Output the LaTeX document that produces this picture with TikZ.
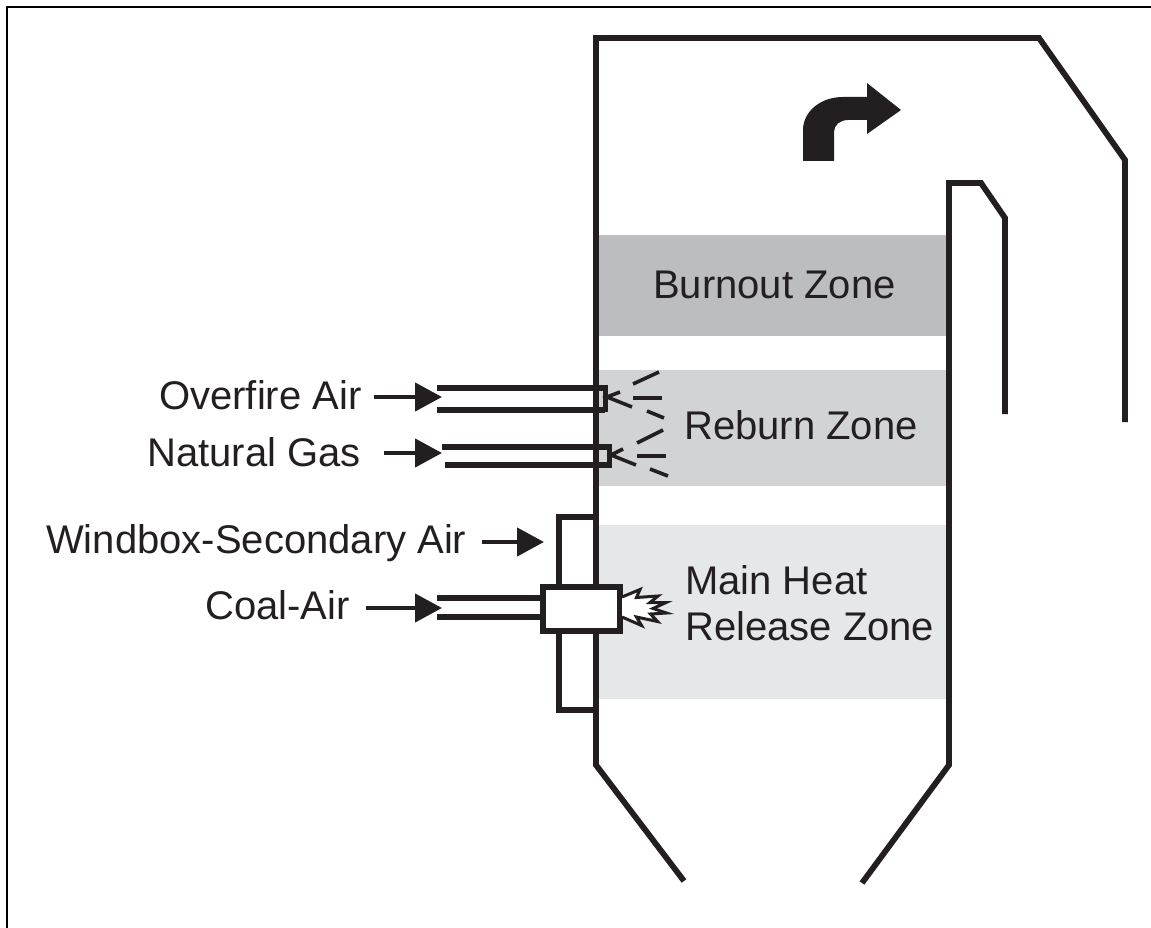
\documentclass[tikz,border=0pt]{standalone}
\usepackage{fontspec}
\setmainfont{Liberation Sans}
\usetikzlibrary{arrows.meta}
\definecolor{ink}{HTML}{231F20}
\definecolor{burn}{HTML}{BBBDC0}
\definecolor{reburn}{HTML}{D1D3D4}
\definecolor{mainz}{HTML}{E6E7E8}
\tikzset{
  wall/.style={draw=ink,line width=5.8pt,line cap=butt,line join=miter},
  pipe/.style={draw=ink,line width=6pt},
  thin stroke/.style={draw=ink,line width=3pt},
  spray/.style={draw=ink,line width=3.6pt},
  feed/.style={draw=ink,line width=4.4pt,-{Triangle[length=27pt,width=28pt]}},
  lab/.style={font=\fontsize{40}{46}\selectfont,text=ink,inner sep=0pt,anchor=base west},
}
\begin{document}
\begin{tikzpicture}[x=1pt,y=-1pt]
\useasboundingbox (0,0) rectangle (1151,928);
\fill[white] (0,0) rectangle (1151,928);
\draw[black,line width=1.6pt] (7,928) -- (7,7) -- (1151,7);
% zones
\fill[burn] (597,235) rectangle (947,336);
\fill[reburn] (597,370) rectangle (947,486);
\fill[mainz] (597,525) rectangle (947,699);
% furnace walls
\draw[wall] (684,881) -- (596,765) -- (596,38) -- (1039,38) -- (1125,160) -- (1125,422);
\draw[wall] (862,883) -- (949,765) -- (949,183) -- (981,183) -- (1005,218) -- (1005,414);
% windbox
\draw[wall] (596,517) -- (559,517) -- (559,710) -- (596,710);
% injector pipes
\draw[pipe] (437,388) -- (605,388);
\draw[pipe] (437,410) -- (605,410);
\draw[draw=ink,line width=5pt] (596,387.5) -- (605,387.5) -- (605,409.5) -- (596,409.5);
\draw[pipe] (442,447) -- (609,447);
\draw[pipe] (445,465) -- (609,465);
\draw[draw=ink,line width=5pt] (596,446.5) -- (609,446.5) -- (609,465) -- (596,465);
\draw[pipe] (437,598) -- (545,598);
\draw[pipe] (437,617) -- (545,617);
% burner
\draw[wall,fill=white] (543,587) rectangle (620,631);
% flame
\draw[thin stroke,fill=white,line join=miter] (622,597) -- (640,589.5) -- (636.5,597.5) -- (658,596) -- (650,602.5) -- (666,602.5) -- (653,608.5) -- (666.5,613) -- (650.5,614) -- (657.5,621.5) -- (636.5,617) -- (641.5,625.5) -- (622,617);
% spray, upper
\draw[spray] (620,392) -- (607,397) -- (632,407);
\draw[spray] (633,384) -- (659,372);
\draw[spray] (633,398) -- (662,398);
\draw[spray] (647,411) -- (664,418);
% spray, lower
\draw[spray] (623,449) -- (611,455) -- (636,465);
\draw[spray] (637,443) -- (663,430);
\draw[spray] (637,456) -- (666,456);
\draw[spray] (650,469) -- (668,476);
% flow arrow
\fill[ink] (803,161) -- (834,161) -- (834,132) .. controls (834,125) and (840,120) .. (848,120) -- (867,120) -- (867,134) -- (901,110) -- (867,83) -- (867,97) -- (843,97) .. controls (820,97) and (803,112) .. (803,130) -- cycle;
% labels
\node[lab] (burnout) at (653,298) {Burnout Zone};
\node[lab] (reburnz) at (684,439) {Reburn Zone};
\node[lab] (mainheat) at (685,594) {Main Heat};
\node[lab] (release) at (685,640) {Release Zone};
\node[lab] (ofa) at (159,409) {Overfire Air};
\node[lab] (gas) at (147,466) {Natural Gas};
\node[lab] (wind) at (46,553) {Windbox-Secondary Air};
\node[lab] (coal) at (205,619) {Coal-Air};
% feed arrows
\coordinate (ofatip) at (442,397);
\coordinate (gastip) at (442,453);
\coordinate (windtip) at (544,542);
\coordinate (coaltip) at (442,608);
\draw[feed] ([xshift=12pt]ofa.east |- ofatip) -- (ofatip);
\draw[feed] ([xshift=23pt]gas.east |- gastip) -- (gastip);
\draw[feed] ([xshift=15pt]wind.east |- windtip) -- (windtip);
\draw[feed] ([xshift=16pt]coal.east |- coaltip) -- (coaltip);
\end{tikzpicture}
\end{document}
